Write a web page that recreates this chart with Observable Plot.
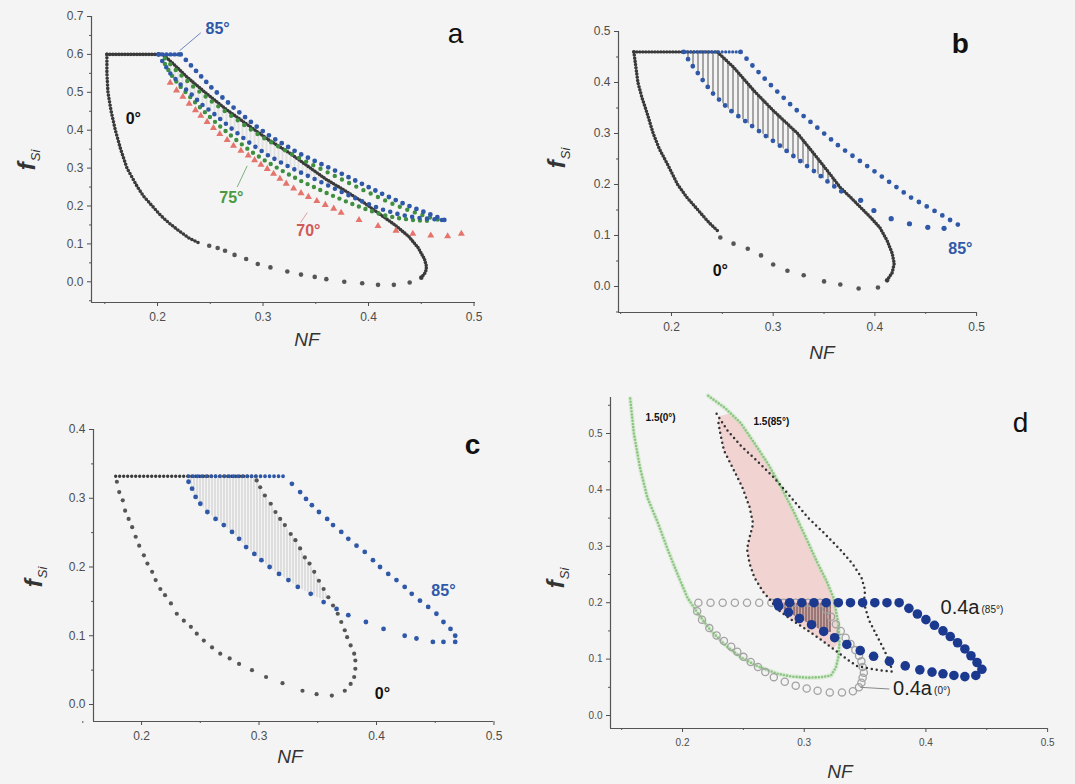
<!DOCTYPE html>
<html><head><meta charset="utf-8">
<script src="https://cdn.jsdelivr.net/npm/d3@7"></script>
<script src="https://cdn.jsdelivr.net/npm/@observablehq/plot@0.6"></script>
<style>
body{margin:0;background:#f4f4f4;font-family:Arial,"Liberation Sans",sans-serif}
#wrap{position:relative;width:1075px;height:784px;overflow:hidden;background:#f4f4f4}
.xl{position:absolute;transform:translate(-50%,-50%);font-style:italic;font-size:19px;color:#333;white-space:nowrap}
.yl{position:absolute;transform:translate(-50%,-50%) rotate(-90deg);white-space:nowrap;color:#333}
.yl .f{font-style:italic;font-weight:bold;font-size:24px}
.yl .s{font-style:italic;font-size:13px;position:relative;top:5px;margin-left:1px}
</style></head>
<body><div id="wrap"></div>
<script>
// ---------------- data (f_Si vs NF) ----------------
// panel a
const aBlackTop = [[0.152,0.6],[0.205,0.6]];
const aBlackLeft = [[0.152,0.6],[0.152,0.55],[0.153,0.5],[0.156,0.45],[0.16,0.4],[0.165,0.35],[0.171,0.3],[0.176,0.275],[0.181,0.25],[0.187,0.225],[0.195,0.2],[0.203,0.175],[0.211,0.155],[0.22,0.135],[0.23,0.115],[0.241,0.1]];
const aBlackBottom = [[0.249,0.095],[0.257,0.089],[0.264,0.082],[0.273,0.071],[0.284,0.06],[0.295,0.047],[0.307,0.038],[0.323,0.027],[0.336,0.019],[0.349,0.013],[0.36,0.007],[0.377,0.0],[0.394,-0.004],[0.409,-0.008],[0.424,-0.008],[0.439,-0.002],[0.45,0.011]];
const aBlackRight = [[0.45,0.011],[0.454,0.025],[0.455,0.04],[0.453,0.06],[0.447,0.09],[0.438,0.12],[0.425,0.15],[0.41,0.18],[0.395,0.21],[0.378,0.24],[0.36,0.27],[0.345,0.3],[0.325,0.34],[0.305,0.375],[0.285,0.415],[0.265,0.455],[0.245,0.5],[0.228,0.54],[0.215,0.575],[0.205,0.6]];
const aBlueTop = [[0.201,0.6],[0.222,0.6]];
const aBlueUpper = [[0.222,0.6],[0.232,0.57],[0.242,0.54],[0.252,0.51],[0.262,0.485],[0.272,0.46],[0.284,0.432],[0.296,0.405],[0.308,0.382],[0.32,0.362],[0.332,0.342],[0.345,0.324],[0.358,0.307],[0.371,0.29],[0.384,0.272],[0.397,0.254],[0.41,0.236],[0.423,0.219],[0.436,0.203],[0.449,0.188],[0.461,0.175],[0.473,0.162]];
const aBlueLower = [[0.201,0.6],[0.205,0.58],[0.212,0.55],[0.222,0.52],[0.232,0.495],[0.241,0.47],[0.255,0.44],[0.272,0.4],[0.288,0.365],[0.304,0.335],[0.32,0.31],[0.336,0.288],[0.352,0.267],[0.367,0.247],[0.383,0.226],[0.399,0.206],[0.414,0.19],[0.43,0.177],[0.446,0.169],[0.462,0.165],[0.473,0.162]];
const aGreenUpper = [[0.207,0.59],[0.215,0.565],[0.225,0.538],[0.235,0.512],[0.245,0.49],[0.256,0.466],[0.268,0.442],[0.28,0.418],[0.292,0.395],[0.304,0.374],[0.317,0.353],[0.33,0.333],[0.343,0.314],[0.356,0.296],[0.369,0.278],[0.382,0.26],[0.395,0.242],[0.408,0.225],[0.421,0.208],[0.434,0.193],[0.447,0.18],[0.46,0.168],[0.466,0.164]];
const aGreenLower = [[0.207,0.575],[0.212,0.55],[0.22,0.52],[0.23,0.49],[0.241,0.458],[0.256,0.418],[0.272,0.38],[0.288,0.345],[0.304,0.316],[0.32,0.29],[0.336,0.266],[0.352,0.245],[0.367,0.226],[0.383,0.207],[0.399,0.19],[0.414,0.176],[0.43,0.167],[0.446,0.162],[0.462,0.16]];
const aRed = [[0.212,0.525],[0.218,0.505],[0.224,0.488],[0.23,0.47],[0.236,0.453],[0.241,0.438],[0.247,0.422],[0.253,0.406],[0.259,0.39],[0.266,0.374],[0.272,0.359],[0.279,0.346],[0.286,0.333],[0.292,0.321],[0.298,0.309],[0.304,0.298],[0.31,0.285],[0.316,0.272],[0.322,0.259],[0.329,0.246],[0.336,0.234],[0.343,0.224],[0.351,0.213],[0.359,0.203],[0.367,0.193],[0.374,0.182],[0.391,0.163],[0.409,0.147],[0.426,0.135],[0.442,0.127],[0.459,0.122],[0.475,0.12],[0.488,0.127]];
const aHatch = [[0.205,0.58],[0.212,0.55],[0.222,0.52],[0.232,0.495],[0.241,0.47],[0.255,0.44],[0.272,0.4],[0.288,0.365],[0.304,0.335],[0.32,0.31],[0.336,0.288],[0.352,0.267],[0.367,0.247],[0.383,0.226],[0.399,0.206],[0.395,0.21],[0.378,0.24],[0.36,0.27],[0.345,0.3],[0.325,0.34],[0.305,0.375],[0.285,0.415],[0.265,0.455],[0.245,0.5],[0.228,0.54],[0.215,0.575]];

// panel b
const bBlackTop = [[0.163,0.46],[0.245,0.46]];
const bBlackLeft = [[0.163,0.46],[0.165,0.43],[0.167,0.4],[0.171,0.37],[0.176,0.34],[0.182,0.3],[0.188,0.27],[0.196,0.24],[0.206,0.2],[0.215,0.175],[0.226,0.15],[0.237,0.125],[0.246,0.108]];
const bBlackBottom = [[0.248,0.096],[0.261,0.084],[0.275,0.074],[0.288,0.061],[0.3,0.043],[0.314,0.031],[0.33,0.022],[0.35,0.01],[0.366,0.004],[0.384,-0.004],[0.403,-0.002],[0.412,0.012]];
const bBlackRight = [[0.412,0.012],[0.417,0.027],[0.419,0.045],[0.417,0.065],[0.412,0.09],[0.405,0.115],[0.396,0.135],[0.386,0.155],[0.376,0.175],[0.366,0.194],[0.356,0.22],[0.343,0.253],[0.324,0.3],[0.3,0.345],[0.281,0.384],[0.261,0.43],[0.245,0.46]];
const bBlueTop = [[0.212,0.46],[0.268,0.46]];
const bBlueUpper = [[0.268,0.46],[0.281,0.43],[0.3,0.39],[0.32,0.351],[0.343,0.312],[0.366,0.273],[0.389,0.241],[0.412,0.208],[0.435,0.175],[0.458,0.149],[0.487,0.115]];
const bBlueLower = [[0.212,0.46],[0.218,0.44],[0.226,0.418],[0.233,0.398],[0.241,0.378],[0.25,0.36],[0.258,0.345],[0.27,0.328],[0.281,0.312],[0.292,0.296],[0.304,0.28],[0.317,0.26],[0.33,0.241],[0.343,0.222],[0.356,0.202],[0.368,0.185]];
const bBlueSparse = [[0.386,0.169],[0.399,0.149],[0.416,0.133],[0.434,0.123],[0.452,0.116],[0.468,0.114]];
const bHatch = [[0.212,0.46],[0.218,0.44],[0.226,0.418],[0.233,0.398],[0.241,0.378],[0.25,0.36],[0.258,0.345],[0.27,0.328],[0.281,0.312],[0.292,0.296],[0.304,0.28],[0.317,0.26],[0.33,0.241],[0.343,0.222],[0.356,0.202],[0.366,0.192],[0.356,0.22],[0.343,0.253],[0.324,0.3],[0.3,0.345],[0.281,0.384],[0.261,0.43],[0.245,0.46]];

// panel c
const cBlackTop = [[0.178,0.332],[0.298,0.332]];
const cBlack = [[0.179,0.324],[0.181,0.309],[0.184,0.297],[0.186,0.282],[0.189,0.27],[0.192,0.258],[0.195,0.244],[0.198,0.231],[0.202,0.217],[0.205,0.205],[0.209,0.193],[0.212,0.181],[0.216,0.168],[0.22,0.159],[0.225,0.147],[0.23,0.132],[0.236,0.122],[0.242,0.113],[0.247,0.103],[0.253,0.093],[0.26,0.083],[0.267,0.074],[0.275,0.067],[0.283,0.059],[0.294,0.05],[0.306,0.04],[0.32,0.031],[0.337,0.02],[0.349,0.015],[0.362,0.013],[0.373,0.02],[0.378,0.03],[0.381,0.04],[0.382,0.052],[0.382,0.064],[0.381,0.074],[0.378,0.086],[0.375,0.098],[0.373,0.108],[0.37,0.12],[0.367,0.132],[0.363,0.144],[0.359,0.156],[0.355,0.168],[0.351,0.18],[0.347,0.193],[0.343,0.205],[0.339,0.214],[0.335,0.227],[0.331,0.239],[0.327,0.248],[0.322,0.261],[0.318,0.27],[0.314,0.28],[0.31,0.292],[0.305,0.304],[0.301,0.316],[0.298,0.326]];
const cBlueTop = [[0.24,0.332],[0.322,0.332]];
const cBlue = [[0.328,0.321],[0.335,0.309],[0.34,0.299],[0.345,0.29],[0.351,0.28],[0.358,0.27],[0.363,0.261],[0.37,0.251],[0.376,0.241],[0.383,0.231],[0.39,0.222],[0.397,0.21],[0.403,0.2],[0.41,0.19],[0.417,0.181],[0.424,0.171],[0.43,0.161],[0.437,0.151],[0.444,0.142],[0.451,0.132],[0.457,0.12],[0.463,0.11],[0.467,0.1],[0.467,0.091],
  [0.457,0.091],[0.448,0.091],[0.434,0.096],[0.424,0.1],[0.406,0.11],[0.391,0.12],[0.376,0.13],[0.366,0.139],[0.355,0.149],[0.344,0.161],[0.333,0.171],[0.325,0.181],[0.317,0.19],[0.309,0.2],[0.302,0.21],[0.296,0.219],[0.289,0.229],[0.283,0.241],[0.277,0.251],[0.27,0.261],[0.263,0.27],[0.256,0.28],[0.25,0.292],[0.246,0.302],[0.243,0.314],[0.24,0.324]];
const cHatch = [[0.24,0.332],[0.243,0.314],[0.246,0.302],[0.25,0.292],[0.256,0.28],[0.263,0.27],[0.27,0.261],[0.277,0.251],[0.283,0.241],[0.289,0.229],[0.296,0.219],[0.302,0.21],[0.309,0.2],[0.317,0.19],[0.325,0.181],[0.333,0.171],[0.344,0.161],[0.355,0.152],[0.359,0.156],[0.355,0.168],[0.351,0.18],[0.347,0.193],[0.343,0.205],[0.339,0.214],[0.335,0.227],[0.331,0.239],[0.327,0.248],[0.322,0.261],[0.318,0.27],[0.314,0.28],[0.31,0.292],[0.305,0.304],[0.301,0.316],[0.298,0.332]];

// panel d
const dGreen = [[0.157,0.562],[0.16,0.5],[0.165,0.44],[0.171,0.387],[0.18,0.34],[0.188,0.293],[0.196,0.25],[0.204,0.209],[0.213,0.18],[0.223,0.151],[0.235,0.125],[0.248,0.103],[0.262,0.087],[0.278,0.074],[0.29,0.069],[0.303,0.067],[0.314,0.068],[0.322,0.071],[0.326,0.085],[0.328,0.103],[0.329,0.13],[0.328,0.163],[0.324,0.209],[0.318,0.24],[0.311,0.27],[0.301,0.317],[0.291,0.363],[0.281,0.405],[0.27,0.447],[0.259,0.483],[0.248,0.518],[0.235,0.545],[0.221,0.567]];
const dDark = [[0.228,0.535],[0.237,0.505],[0.248,0.478],[0.262,0.45],[0.275,0.422],[0.289,0.387],[0.303,0.351],[0.317,0.322],[0.33,0.293],[0.34,0.268],[0.347,0.245],[0.35,0.222],[0.349,0.2],[0.353,0.17],[0.36,0.14],[0.366,0.115],[0.371,0.09],[0.372,0.078],[0.362,0.08],[0.352,0.084],[0.343,0.088],[0.335,0.1],[0.324,0.118],[0.312,0.137],[0.3,0.155],[0.288,0.172],[0.278,0.188],[0.272,0.205],[0.266,0.22],[0.259,0.245],[0.255,0.27],[0.253,0.295],[0.255,0.315],[0.258,0.34],[0.255,0.37],[0.249,0.405],[0.241,0.44],[0.234,0.47],[0.231,0.5],[0.229,0.525]];
const dPink = [[0.229,0.53],[0.231,0.5],[0.234,0.47],[0.241,0.44],[0.249,0.405],[0.255,0.37],[0.258,0.34],[0.255,0.315],[0.253,0.295],[0.255,0.27],[0.259,0.245],[0.266,0.22],[0.272,0.205],[0.278,0.188],[0.288,0.172],[0.3,0.155],[0.312,0.137],[0.324,0.118],[0.328,0.13],[0.328,0.163],[0.324,0.209],[0.318,0.24],[0.311,0.27],[0.301,0.317],[0.291,0.363],[0.281,0.405],[0.27,0.447],[0.259,0.483],[0.248,0.518],[0.238,0.535]];
const dHatch = [[0.278,0.2],[0.322,0.2],[0.322,0.148],[0.316,0.149],[0.306,0.161],[0.296,0.172],[0.287,0.183],[0.279,0.194]];
const dGray = [[0.213,0.2],[0.223,0.2],[0.233,0.2],[0.243,0.2],[0.253,0.2],[0.263,0.2],[0.273,0.2],[0.283,0.2],[0.293,0.2],[0.303,0.2],[0.313,0.2],
  [0.212,0.185],[0.216,0.17],[0.222,0.155],[0.228,0.142],[0.234,0.132],[0.24,0.122],[0.245,0.113],[0.25,0.104],[0.256,0.095],[0.262,0.086],[0.268,0.077],[0.275,0.068],[0.284,0.06],[0.293,0.053],[0.302,0.048],[0.311,0.044],[0.321,0.041],[0.331,0.041],[0.34,0.043],[0.345,0.05],[0.347,0.058],[0.348,0.067],[0.349,0.076],[0.348,0.086],[0.347,0.096],[0.345,0.106],[0.342,0.116],[0.338,0.127],[0.334,0.138],[0.33,0.15],[0.326,0.162],[0.322,0.175],[0.318,0.188]];
const dBlue = [[0.278,0.2],[0.288,0.2],[0.298,0.2],[0.308,0.2],[0.318,0.2],[0.328,0.2],[0.338,0.2],[0.348,0.2],[0.358,0.2],[0.368,0.2],[0.378,0.2],
  [0.386,0.19],[0.393,0.18],[0.4,0.17],[0.407,0.16],[0.414,0.15],[0.42,0.14],[0.426,0.129],[0.432,0.118],[0.437,0.106],[0.442,0.094],[0.446,0.082],
  [0.441,0.071],[0.432,0.069],[0.423,0.071],[0.414,0.074],[0.405,0.077],[0.395,0.081],[0.383,0.088],[0.37,0.096],[0.357,0.105],[0.346,0.115],[0.335,0.126],[0.325,0.138],[0.316,0.149],[0.306,0.161],[0.296,0.172],[0.287,0.183],[0.279,0.194]];

// tick values
const xTicks = [0.2,0.3,0.4,0.5];
const xMinor = [0.15,0.25,0.35,0.45];
const aYTicks = [0,0.1,0.2,0.3,0.4,0.5,0.6,0.7];
const bYTicks = [0,0.1,0.2,0.3,0.4,0.5];
const cYTicks = [0,0.1,0.2,0.3,0.4];
const dYTicks = [0,0.1,0.2,0.3,0.4,0.5];

// ---------------- helpers ----------------
const X = d => d[0], Y = d => d[1];
const dotted = (data, color, r, gap, extra = {}) =>
  Plot.line(data, {x: X, y: Y, stroke: color, strokeWidth: 2 * r, strokeDasharray: `0 ${gap}`, strokeLinecap: "round", ...extra});
const dots = (data, color, r, extra = {}) => Plot.dot(data, {x: X, y: Y, r, fill: color, stroke: "none", ...extra});
const poly = (data, fill) => Plot.line(data, {x: X, y: Y, fill, stroke: "none"});
const label = (t, x, y, o = {}) => Plot.text([t], {x, y, text: d => d, fontFamily: "Arial, 'Liberation Sans', sans-serif", ...o});
const minorOf = (ticks, step) => { const r = []; for (let i = 0; i < ticks.length; i++) r.push(+(ticks[i] - step).toFixed(2)); r.push(+(ticks[ticks.length-1] + step).toFixed(2)); return r; };

const wrap = document.getElementById("wrap");

function panel(cfg) {
  const {left, top, width, height, ml, mr, mt, mb, xd, yd, yTicks, marks, hatches, fs} = cfg;
  const yMinor = minorOf(yTicks, 0.05).filter(v => v >= yd[0] && v <= yd[1]);
  const svg = Plot.plot({
    width, height, marginLeft: ml, marginRight: mr, marginTop: mt, marginBottom: mb,
    x: {domain: xd}, y: {domain: yd},
    style: {background: "transparent", fontFamily: "Arial, 'Liberation Sans', sans-serif", overflow: "visible"},
    marks: [
      ...marks,
      Plot.ruleX([xd[0]], {stroke: "#555", strokeWidth: 1.2}),
      Plot.ruleY([yd[0]], {stroke: "#555", strokeWidth: 1.2}),
      Plot.axisY({ticks: yTicks, tickFormat: d3.format(".1f"), tickSize: 4, tickPadding: 4, label: null, color: "#4d4d4d", fontSize: fs}),
      Plot.axisY({ticks: yMinor, tickFormat: () => "", tickSize: 2, label: null, color: "#555"}),
      Plot.axisX({ticks: xTicks, tickFormat: d3.format(".1f"), tickSize: 4, tickPadding: 6, label: null, color: "#4d4d4d", fontSize: fs}),
      Plot.axisX({ticks: xMinor, tickFormat: () => "", tickSize: 2, label: null, color: "#555"})
    ]
  });
  const defs = d3.select(svg).insert("defs", ":first-child");
  for (const h of hatches || []) {
    const p = defs.append("pattern").attr("id", h.id).attr("patternUnits", "userSpaceOnUse")
      .attr("width", h.gap).attr("height", 10);
    if (h.bg) p.append("rect").attr("width", h.gap).attr("height", 10).attr("fill", h.bg);
    p.append("line").attr("x1", h.gap / 2).attr("x2", h.gap / 2).attr("y1", 0).attr("y2", 10)
      .attr("stroke", h.color).attr("stroke-width", h.w);
  }
  svg.style.position = "absolute";
  svg.style.left = left + "px";
  svg.style.top = top + "px";
  wrap.appendChild(svg);
}

const BLK = "#3a3a3a", BLUE = "#2f58a8", GREEN = "#3f8f3f", RED = "#e4746c";

// ---------------- panel a ----------------
panel({
  left: 0, top: 0, width: 520, height: 370, ml: 91, mr: 45, mt: 16, mb: 68,
  xd: [0.1374, 0.5014], yd: [-0.0546, 0.7], yTicks: aYTicks, fs: 12,
  hatches: [{id: "hA", gap: 4, color: "#c8c8c8", w: 0.8}],
  marks: [
    poly(aHatch, "url(#hA)"),
    dotted(aBlackTop, BLK, 1.8, 3),
    dotted(aBlackLeft, BLK, 1.8, 3.4),
    dots(aBlackBottom, "#555", 2.3),
    dotted(aBlackRight, BLK, 1.8, 2.8),
    Plot.dot(aRed, {x: X, y: Y, r: 2.6, symbol: "triangle", fill: RED, stroke: "none"}),
    dotted(aGreenLower, GREEN, 2.2, 7),
    dotted(aGreenUpper, GREEN, 2.2, 8),
    dotted(aBlueLower, BLUE, 2.3, 7.5),
    dotted(aBlueUpper, BLUE, 2.4, 7.5),
    dotted(aBlueTop, BLUE, 2.2, 4),
    Plot.link([0], {x1: 0.241, y1: 0.657, x2: 0.221, y2: 0.61, stroke: "#6f86c0", strokeWidth: 1}),
    Plot.link([0], {x1: 0.285, y1: 0.306, x2: 0.2755, y2: 0.25, stroke: "#7fb07f", strokeWidth: 1}),
    Plot.link([0], {x1: 0.342, y1: 0.183, x2: 0.3355, y2: 0.156, stroke: "#e0a0a0", strokeWidth: 1}),
    label("85°", 0.257, 0.668, {fill: BLUE, fontSize: 16, fontWeight: "bold"}),
    label("0°", 0.177, 0.43, {fill: "#111", fontSize: 16, fontWeight: "bold"}),
    label("75°", 0.27, 0.222, {fill: "#4a9a40", fontSize: 16, fontWeight: "bold"}),
    label("70°", 0.343, 0.135, {fill: "#d05a5a", fontSize: 16, fontWeight: "bold"}),
    label("a", 0.4825, 0.654, {fill: "#111", fontSize: 28})
  ]
});

// ---------------- panel b ----------------
panel({
  left: 520, top: 0, width: 555, height: 380, ml: 98, mr: 99, mt: 31, mb: 68,
  xd: [0.1479, 0.4999], yd: [-0.051, 0.5], yTicks: bYTicks, fs: 12,
  hatches: [{id: "hB", gap: 5, color: "#555", w: 1}],
  marks: [
    poly(bHatch, "url(#hB)"),
    dotted(bBlackTop, BLK, 1.7, 3),
    dotted(bBlackLeft, BLK, 1.8, 3.2),
    dots(bBlackBottom, "#555", 2.3),
    dotted(bBlackRight, BLK, 1.8, 3),
    dotted(bBlueTop, BLUE, 1.6, 3.5),
    dotted(bBlueUpper, BLUE, 2.4, 9),
    dotted(bBlueLower, BLUE, 2.4, 8.5),
    dots(bBlueSparse, BLUE, 2.6),
    label("b", 0.484, 0.476, {fill: "#111", fontSize: 28, fontWeight: "bold"}),
    label("85°", 0.484, 0.0745, {fill: BLUE, fontSize: 16, fontWeight: "bold"}),
    label("0°", 0.248, 0.031, {fill: "#111", fontSize: 16, fontWeight: "bold"})
  ]
});

// ---------------- panel c ----------------
panel({
  left: 0, top: 390, width: 540, height: 394, ml: 93, mr: 47, mt: 39, mb: 63,
  xd: [0.1591, 0.4996], yd: [-0.0247, 0.4], yTicks: cYTicks, fs: 12,
  hatches: [{id: "hC", gap: 3, color: "#bdbdbd", w: 0.8}],
  marks: [
    poly(cHatch, "url(#hC)"),
    dotted(cBlackTop, BLK, 1.7, 4),
    dots(cBlack, "#555", 2.1),
    dotted(cBlueTop, BLUE, 1.9, 4.5),
    dots(cBlue, BLUE, 2.4),
    label("c", 0.4817, 0.377, {fill: "#111", fontSize: 28, fontWeight: "bold"}),
    label("85°", 0.457, 0.166, {fill: BLUE, fontSize: 16, fontWeight: "bold"}),
    label("0°", 0.405, 0.016, {fill: "#111", fontSize: 16, fontWeight: "bold"})
  ]
});

// ---------------- panel d ----------------
panel({
  left: 540, top: 390, width: 535, height: 394, ml: 70, mr: 28, mt: 7, mb: 56,
  xd: [0.1408, 0.4999], yd: [-0.023, 0.5638], yTicks: dYTicks, fs: 10,
  hatches: [{id: "hD", gap: 3, color: "#6b4545", w: 1, bg: "#c9a9a6"}],
  marks: [
    poly(dPink, "#f1d3d2"),
    poly(dHatch, "url(#hD)"),
    Plot.line(dGreen, {x: X, y: Y, stroke: "#c3e3bb", strokeWidth: 4.5, strokeOpacity: 0.45}),
    dotted(dGreen, "#8cc682", 1.3, 3.2),
    Plot.dot(dGray, {x: X, y: Y, r: 3.6, fill: "none", stroke: "#a3a3a3", strokeWidth: 1.3}),
    dotted(dDark, "#333", 1.25, 5),
    dots(dBlue, "#1c3990", 4.8),
    Plot.link([0], {x1: 0.346, y1: 0.05, x2: 0.37, y2: 0.047, stroke: "#888", strokeWidth: 1}),
    label("d", 0.4777, 0.518, {fill: "#111", fontSize: 28}),
    label("1.5(0°)", 0.182, 0.527, {fill: "#111", fontSize: 10, fontWeight: "bold"}),
    label("1.5(85°)", 0.273, 0.52, {fill: "#111", fontSize: 10, fontWeight: "bold"}),
    label("0.4a", 0.412, 0.191, {fill: "#222", fontSize: 20, textAnchor: "start"}),
    label("(85°)", 0.412, 0.187, {fill: "#222", fontSize: 10, textAnchor: "start", dx: 41}),
    label("0.4a", 0.373, 0.048, {fill: "#222", fontSize: 20, textAnchor: "start"}),
    label("(0°)", 0.373, 0.044, {fill: "#222", fontSize: 10, textAnchor: "start", dx: 41})
  ]
});

// ---------------- axis titles ----------------
function html(cls, x, y, inner) {
  const el = document.createElement("div");
  el.className = cls; el.style.left = x + "px"; el.style.top = y + "px"; el.innerHTML = inner;
  wrap.appendChild(el);
}
const yTitle = '<span class="f">f</span><span class="s">Si</span>';
html("xl", 307, 340, "NF");
html("xl", 822, 353, "NF");
html("xl", 290, 757, "NF");
html("xl", 840, 772, "NF");
html("yl", 27, 160, yTitle);
html("yl", 557, 158, yTitle);
html("yl", 34, 577, yTitle);
html("yl", 556, 578, yTitle);
</script>
</body></html>
